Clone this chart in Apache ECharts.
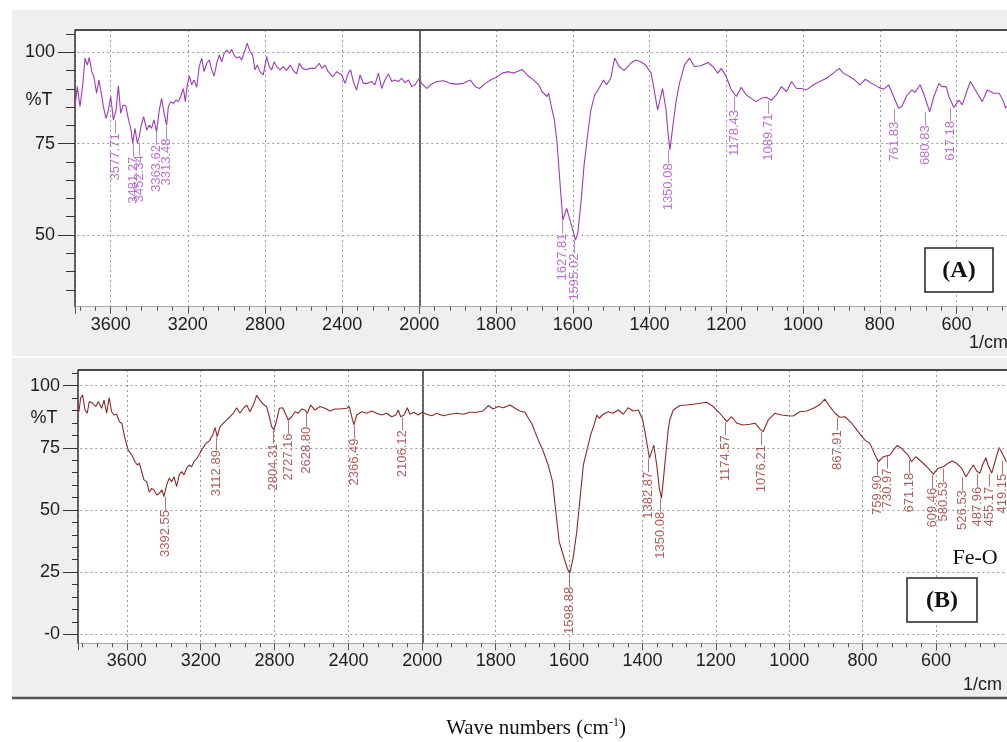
<!DOCTYPE html>
<html>
<head>
<meta charset="utf-8">
<script src="https://cdn.jsdelivr.net/npm/echarts@6/dist/echarts.min.js"></script>
<style>
  html, body { margin: 0; padding: 0; background: #fff; }
  #chart { width: 1007px; height: 742px; }
</style>
</head>
<body>
<div id="chart"></div>
<script>
// spectrum (A): [wavenumber 1/cm, %T]
var specA = [
  [3785,85.1],[3773,90.6],[3759,85.1],[3745,91.1],[3733,98.4],[3721,96.5],[3711,98.6],[3698,94.7],[3687,93.3],[3673,88.8],
  [3661,92.4],[3647,88.3],[3638,85.1],[3624,81.9],[3612,84.2],[3600,87.9],[3586,81.5],[3572,84.2],[3560,90.8],[3548,83.3],
  [3535,85.6],[3521,85.3],[3509,81.9],[3496,79.2],[3486,75.1],[3474,79.2],[3462,75.1],[3452,76.9],[3441,80.1],[3429,82.4],
  [3413,78.7],[3400,80.1],[3388,79.2],[3376,81.5],[3362,78.3],[3348,84.2],[3336,87.4],[3323,83.3],[3310,80.1],[3301,85.1],
  [3289,86.5],[3275,86.0],[3261,86.9],[3249,86.5],[3237,87.9],[3223,90.1],[3213,86.5],[3203,91.1],[3192,93.5],[3180,91.1],
  [3168,92.4],[3154,90.4],[3141,96.1],[3128,98.4],[3116,94.7],[3102,97.0],[3089,97.9],[3076,95.2],[3064,93.5],[3050,97.0],
  [3037,99.3],[3024,97.4],[3012,99.7],[2998,100.6],[2985,99.7],[2973,100.8],[2961,99.3],[2947,98.4],[2933,98.8],[2921,97.9],
  [2909,99.7],[2892,102.5],[2878,100.2],[2864,99.3],[2852,95.2],[2840,96.5],[2826,94.7],[2809,93.8],[2791,98.8],[2778,96.1],
  [2765,95.2],[2753,97.4],[2739,96.1],[2722,95.2],[2705,96.1],[2688,95.0],[2670,96.5],[2653,95.0],[2636,94.1],[2622,97.0],
  [2605,95.6],[2587,95.2],[2567,95.6],[2541,95.6],[2518,97.0],[2506,95.6],[2489,96.5],[2472,94.7],[2449,93.3],[2428,94.7],
  [2402,93.8],[2385,91.5],[2368,94.3],[2356,95.2],[2342,92.0],[2325,89.7],[2307,93.8],[2290,91.5],[2270,91.5],[2247,92.0],
  [2230,91.1],[2212,94.3],[2195,90.1],[2178,92.4],[2160,94.1],[2143,92.0],[2126,92.4],[2108,92.0],[2091,92.9],[2074,91.7],
  [2056,92.4],[2039,90.6],[2022,91.1],[2000,92.9],
  [1994,91.5],[1981,90.1],[1968,91.3],[1954,92.0],[1937,92.2],[1920,91.5],[1902,91.3],[1885,91.5],[1867,92.4],[1854,90.6],
  [1843,90.1],[1828,91.5],[1811,92.6],[1798,93.2],[1784,94.3],[1767,94.7],[1754,94.3],[1732,95.3],[1719,93.8],[1702,92.4],
  [1689,91.1],[1680,89.2],[1667,87.9],[1663,88.8],[1656,85.1],[1648,81.5],[1641,75.1],[1634,65.1],[1626,54.1],[1616,57.3],
  [1606,53.6],[1593,48.6],[1587,50.5],[1578,59.6],[1571,68.7],[1562,76.9],[1553,84.2],[1543,88.3],[1532,90.1],[1520,92.4],
  [1512,91.1],[1501,92.9],[1491,98.4],[1479,96.1],[1466,95.0],[1449,97.0],[1436,97.9],[1423,97.4],[1410,96.5],[1396,94.3],
  [1388,89.7],[1379,84.2],[1366,90.1],[1357,84.2],[1352,78.0],[1347,73.3],[1339,80.0],[1331,86.5],[1322,91.5],[1309,96.5],
  [1296,98.4],[1283,96.1],[1266,96.3],[1248,97.2],[1235,96.1],[1222,94.3],[1213,95.6],[1200,93.3],[1187,89.7],[1174,87.9],
  [1161,90.4],[1148,88.3],[1135,87.4],[1122,86.5],[1109,87.4],[1096,87.7],[1083,86.9],[1070,88.3],[1056,90.6],[1043,89.2],
  [1030,92.0],[1017,90.1],[1004,90.1],[991,89.7],[973,91.1],[956,92.0],[939,92.9],[921,94.3],[906,95.6],[895,94.3],
  [878,93.3],[865,92.4],[852,91.1],[838,92.6],[821,91.5],[803,90.4],[790,89.9],[777,91.1],[764,87.9],[751,84.7],
  [743,85.1],[729,88.3],[716,89.7],[708,89.0],[695,91.1],[686,88.8],[670,83.7],[659,87.9],[646,91.5],[638,90.6],
  [627,90.6],[620,87.9],[607,84.9],[594,86.9],[585,85.6],[575,88.8],[564,92.0],[551,89.7],[533,86.5],[520,89.7],
  [503,88.8],[489,88.8],[479,86.9],[472,84.7],[463,86.0]
];
var peaksA = [
  [3577.71,81.5],[3481.27,75.1],[3452.34,75.5],[3363.62,78.3],[3313.48,80.1],
  [1627.81,54.1],[1595.02,48.6],[1350.08,73.3],[1178.43,87.9],[1089.71,86.9],
  [761.83,84.7],[680.83,83.7],[617.18,84.9]
];

// spectrum (B)
var specB = [
  [3859,89.5],[3850,94.9],[3839,96.3],[3826,90.2],[3814,88.9],[3803,93.6],[3784,92.9],[3767,91.6],[3754,93.6],[3736,90.9],
  [3723,94.2],[3709,88.9],[3695,95.2],[3682,89.5],[3669,88.2],[3655,88.5],[3640,85.5],[3627,84.9],[3610,78.8],[3592,74.1],
  [3573,72.1],[3555,69.4],[3543,68.1],[3532,68.8],[3519,65.4],[3507,62.1],[3492,61.4],[3478,57.1],[3465,58.7],[3453,58.1],
  [3438,56.0],[3424,56.7],[3409,58.1],[3399,55.4],[3384,60.1],[3370,62.8],[3357,61.4],[3344,63.4],[3330,59.4],[3316,64.1],
  [3303,65.4],[3290,64.1],[3276,66.8],[3262,68.1],[3249,67.4],[3234,69.7],[3218,71.0],[3204,72.8],[3189,74.8],[3171,76.8],
  [3153,77.8],[3135,80.2],[3122,83.1],[3110,79.5],[3095,83.5],[3077,84.9],[3059,86.2],[3041,87.5],[3023,88.9],[3005,91.1],
  [2987,88.9],[2969,90.9],[2951,92.2],[2933,89.5],[2915,92.2],[2897,96.1],[2879,94.2],[2861,92.5],[2843,91.6],[2828,87.5],
  [2816,83.5],[2803,82.2],[2788,86.2],[2774,90.9],[2756,91.1],[2742,88.9],[2726,86.2],[2707,87.5],[2689,89.5],[2672,88.9],
  [2653,90.6],[2635,90.2],[2623,88.9],[2604,92.2],[2581,90.2],[2554,91.6],[2527,90.9],[2500,89.8],[2473,90.6],[2446,90.6],
  [2409,90.9],[2395,91.6],[2382,87.5],[2370,84.2],[2355,88.2],[2328,89.5],[2301,88.9],[2274,89.8],[2247,88.9],[2220,88.2],
  [2193,88.9],[2166,87.5],[2143,88.2],[2130,90.2],[2117,87.5],[2099,88.2],[2081,91.1],[2067,88.5],[2045,89.3],[2022,88.2],
  [2000,89.3],
  [1988,88.5],[1974,87.9],[1961,88.9],[1943,87.9],[1925,88.5],[1906,88.9],[1888,88.5],[1870,89.3],[1852,89.3],[1835,89.8],
  [1820,92.0],[1807,90.6],[1793,91.6],[1779,91.1],[1761,92.2],[1747,90.9],[1734,89.8],[1720,89.3],[1708,86.2],[1702,84.9],
  [1693,81.5],[1684,78.2],[1670,73.5],[1657,68.1],[1645,61.4],[1636,49.3],[1627,37.3],[1616,31.9],[1605,26.6],[1598,24.5],
  [1589,30.6],[1579,41.3],[1570,54.7],[1561,68.1],[1550,74.8],[1541,80.2],[1532,84.2],[1524,88.2],[1518,86.9],[1507,88.5],
  [1493,89.5],[1480,88.9],[1466,90.2],[1452,88.5],[1439,91.1],[1425,89.8],[1411,90.2],[1399,86.2],[1390,78.8],[1381,70.8],
  [1375,73.5],[1369,76.1],[1361,68.1],[1354,58.7],[1348,54.7],[1339,68.1],[1330,82.0],[1325,86.5],[1316,90.2],[1298,92.0],
  [1280,92.2],[1261,92.5],[1243,92.9],[1225,93.3],[1207,91.6],[1189,88.9],[1170,85.5],[1157,87.5],[1143,84.9],[1125,84.2],
  [1107,84.5],[1093,84.9],[1080,82.6],[1071,81.5],[1057,86.2],[1039,88.9],[1021,88.2],[1003,87.9],[989,87.8],[971,89.5],
  [952,89.8],[934,90.9],[918,92.2],[903,94.6],[889,91.6],[875,88.9],[862,87.3],[848,87.5],[830,84.9],[812,81.5],
  [794,78.2],[780,76.8],[766,72.1],[757,69.4],[744,71.4],[725,72.1],[716,74.1],[706,75.9],[694,74.8],[676,72.1],
  [666,69.4],[655,71.4],[639,69.4],[621,66.8],[607,64.4],[594,66.8],[580,67.4],[567,68.8],[555,69.7],[544,68.8],
  [530,66.8],[518,63.4],[507,66.1],[498,68.1],[489,65.7],[480,64.8],[473,68.1],[464,71.0],[458,68.1],[448,64.8],
  [439,69.4],[428,75.1],[417,72.1],[408,69.4]
];
var peaksB = [
  [3392.55,55.4],[3112.89,79.5],[2804.31,82.2],[2727.16,86.2],[2628.80,88.9],[2366.49,84.2],[2106.12,87.5],
  [1598.88,24.5],[1382.87,70.8],[1350.08,54.7],[1174.57,85.5],[1076.21,81.5],[867.91,87.5],
  [759.90,69.4],[730.97,72.1],[671.18,70.4],[609.46,64.4],[580.53,66.8],[526.53,63.4],[487.96,64.8],
  [455.17,64.8],[419.15,70.0]
];

// axis ticks
var yLabelsA = [50, 75, 100];
var yMinorA = [35, 40, 45, 55, 60, 65, 70, 80, 85, 90, 95, 105];
var yLabelsB = [0, 25, 50, 75, 100];
var yMinorB = [5, 10, 15, 20, 30, 35, 40, 45, 55, 60, 65, 70, 80, 85, 90, 95, 105];

var colA = '#9a3db3', colLabA = '#ad4ec2';
var colB = '#8a2a2a', colLabB = '#9c3434';
var txt = '#1c1c1c';
var font = 'Liberation Sans';

var chart = echarts.init(document.getElementById('chart'), null, { renderer: 'canvas' });

function part(spec, lo, hi) {
  return spec.filter(function (p) { return p[0] >= lo && p[0] <= hi; });
}

function lineSeries(data, xi, yi, color, hLines) {
  return {
    type: 'line', xAxisIndex: xi, yAxisIndex: yi, data: data,
    showSymbol: false, symbol: 'none', silent: true, animation: false, z: 3,
    lineStyle: { color: color, width: 1.1 }, itemStyle: { color: color },
    markLine: {
      silent: true, symbol: 'none', animation: false, label: { show: false },
      lineStyle: { color: '#9a9a9a', type: [2, 3], width: 1 },
      data: hLines.map(function (v) { return { yAxis: v }; })
    }
  };
}

function peakSeries(data, xi, yi, color) {
  return {
    type: 'scatter', xAxisIndex: xi, yAxisIndex: yi, data: data,
    symbolSize: 1, itemStyle: { color: 'rgba(0,0,0,0)' }, silent: true, animation: false, z: 5,
    label: {
      show: true, position: 'bottom', distance: 0, rotate: 90, align: 'right', verticalAlign: 'middle',
      color: color, fontFamily: font, fontSize: 13,
      formatter: function (p) { return p.value[0].toFixed(2) + '\u2014'; }
    }
  };
}

function xAxis(gi, min, max, interval, hide) {
  return {
    gridIndex: gi, type: 'value', inverse: true, min: min, max: max, interval: interval,
    axisLine: { onZero: false, lineStyle: { color: '#a8a8a8', width: 1 } },
    axisTick: { length: 7, lineStyle: { color: '#555' } },
    minorTick: { show: true, splitNumber: 5, length: 4, lineStyle: { color: '#555' } },
    axisLabel: {
      margin: 9, color: txt, fontFamily: font, fontSize: 18, showMaxLabel: true, showMinLabel: true,
      formatter: function (v) { return (v % interval === 0 && hide.indexOf(v) < 0) ? String(v) : ''; }
    },
    splitLine: { show: true, lineStyle: { color: '#9a9a9a', type: [2, 3], width: 1 } }
  };
}

function yMain(gi, min, max, labels, margin, tickLen) {
  return {
    gridIndex: gi, type: 'value', position: 'left', offset: 0, min: min, max: max,
    axisLine: { show: true, onZero: false, lineStyle: { color: '#333', width: 1.5 } },
    axisTick: { show: true, customValues: labels, length: tickLen, lineStyle: { color: '#333' } },
    axisLabel: {
      customValues: labels, margin: margin, color: txt, fontFamily: font, fontSize: 18,
      formatter: function (v) { return v === 0 ? '-0' : String(v); }
    },
    splitLine: { show: false }
  };
}

function yMinor(gi, min, max, ticks, len) {
  return {
    gridIndex: gi, type: 'value', position: 'left', offset: 0, min: min, max: max,
    axisLine: { show: false, onZero: false },
    axisTick: { show: true, customValues: ticks, length: len, lineStyle: { color: '#333' } },
    axisLabel: { show: false },
    splitLine: { show: false }
  };
}

function yDivider(gi, min, max) {
  return {
    gridIndex: gi, type: 'value', position: 'left', offset: 0, min: min, max: max,
    axisLine: { show: true, onZero: false, lineStyle: { color: '#3a3a3a', width: 1.5 } },
    axisTick: { show: false }, axisLabel: { show: false }, splitLine: { show: false }
  };
}

var aMin = 30.38, aMax = 106.1;
var bMin = -3.62, bMax = 106.3;

var option = {
  backgroundColor: '#ffffff',
  animation: false,
  grid: [
    { left: 75, top: 30, width: 344.3, height: 276.7, outerBoundsMode: 'none' },
    { left: 419.3, top: 30, width: 614, height: 276.7, outerBoundsMode: 'none' },
    { left: 78, top: 370, width: 344.3, height: 273.3, outerBoundsMode: 'none' },
    { left: 422.3, top: 370, width: 587, height: 273.3, outerBoundsMode: 'none' }
  ],
  xAxis: [
    xAxis(0, 2000, 3785, 400, [2000]),
    xAxis(1, 400, 2000, 200, [400]),
    xAxis(2, 2000, 3864, 400, [2000]),
    xAxis(3, 400, 2000, 200, [400])
  ],
  yAxis: [
    yMain(0, aMin, aMax, yLabelsA, 20, 17),
    yMinor(0, aMin, aMax, yMinorA, 9),
    yDivider(1, aMin, aMax),
    yMain(2, bMin, bMax, yLabelsB, 18, 15),
    yMinor(2, bMin, bMax, yMinorB, 6),
    yDivider(3, bMin, bMax)
  ],
  series: [
    lineSeries(part(specA, 2000, 5000), 0, 0, colA, yLabelsA),
    lineSeries(part(specA, 0, 2000), 1, 2, colA, yLabelsA),
    lineSeries(part(specB, 2000, 5000), 2, 3, colB, yLabelsB),
    lineSeries(part(specB, 0, 2000), 3, 5, colB, yLabelsB),
    peakSeries(part(peaksA, 2000, 5000), 0, 0, colLabA),
    peakSeries(part(peaksA, 0, 2000), 1, 2, colLabA),
    peakSeries(part(peaksB, 2000, 5000), 2, 3, colLabB),
    peakSeries(part(peaksB, 0, 2000), 3, 5, colLabB)
  ],
  graphic: [
    { type: 'rect', z: -10, shape: { x: 12, y: 10, width: 1000, height: 688 }, style: { fill: '#efefef' } },
    { type: 'line', z: -9, shape: { x1: 12, y1: 357, x2: 1007, y2: 357 }, style: { stroke: '#fafafa', lineWidth: 2 } },
    { type: 'rect', z: -8, shape: { x: 75, y: 30, width: 940, height: 276.7 }, style: { fill: '#ffffff' } },
    { type: 'rect', z: -8, shape: { x: 78, y: 370, width: 940, height: 273.3 }, style: { fill: '#ffffff' } },
    { type: 'line', z: 20, shape: { x1: 75, y1: 30, x2: 1007, y2: 30 }, style: { stroke: '#4a4a4a', lineWidth: 2 } },
    { type: 'line', z: 20, shape: { x1: 78, y1: 370, x2: 1007, y2: 370 }, style: { stroke: '#4a4a4a', lineWidth: 2 } },
    { type: 'line', z: 20, shape: { x1: 12, y1: 698, x2: 1007, y2: 698 }, style: { stroke: '#555', lineWidth: 2.5 } },
    { type: 'text', z: 20, x: 39, y: 100, style: { text: '%T', fill: txt, font: '18px "Liberation Sans"', textAlign: 'center', textVerticalAlign: 'middle' } },
    { type: 'text', z: 20, x: 44, y: 418, style: { text: '%T', fill: txt, font: '18px "Liberation Sans"', textAlign: 'center', textVerticalAlign: 'middle' } },
    { type: 'text', z: 20, x: 969, y: 343, style: { text: '1/cm', fill: txt, font: '18px "Liberation Sans"', textAlign: 'left', textVerticalAlign: 'middle' } },
    { type: 'text', z: 20, x: 963, y: 685, style: { text: '1/cm', fill: txt, font: '18px "Liberation Sans"', textAlign: 'left', textVerticalAlign: 'middle' } },
    { type: 'rect', z: 20, shape: { x: 925, y: 248, width: 68, height: 44 }, style: { fill: '#fff', stroke: '#222', lineWidth: 1.5 } },
    { type: 'text', z: 21, x: 959, y: 271, style: { text: '(A)', fill: '#111', font: 'bold 24px "Liberation Serif"', textAlign: 'center', textVerticalAlign: 'middle' } },
    { type: 'rect', z: 20, shape: { x: 907, y: 578, width: 70, height: 44 }, style: { fill: '#fff', stroke: '#222', lineWidth: 1.5 } },
    { type: 'text', z: 21, x: 942, y: 601, style: { text: '(B)', fill: '#111', font: 'bold 24px "Liberation Serif"', textAlign: 'center', textVerticalAlign: 'middle' } },
    { type: 'text', z: 21, x: 975, y: 558, style: { text: 'Fe-O', fill: '#111', font: '22px "Liberation Serif"', textAlign: 'center', textVerticalAlign: 'middle' } },
    {
      type: 'text', z: 21, x: 536, y: 728,
      style: {
        text: 'Wave numbers (cm{sup|-1})', fill: '#111', font: '21px "Liberation Serif"',
        textAlign: 'center', textVerticalAlign: 'middle',
        rich: { sup: { fontSize: 12, fontFamily: 'Liberation Serif', verticalAlign: 'top', padding: [0, 0, 10, 0], fill: '#111' } }
      }
    }
  ]
};

chart.setOption(option);
</script>
</body>
</html>
